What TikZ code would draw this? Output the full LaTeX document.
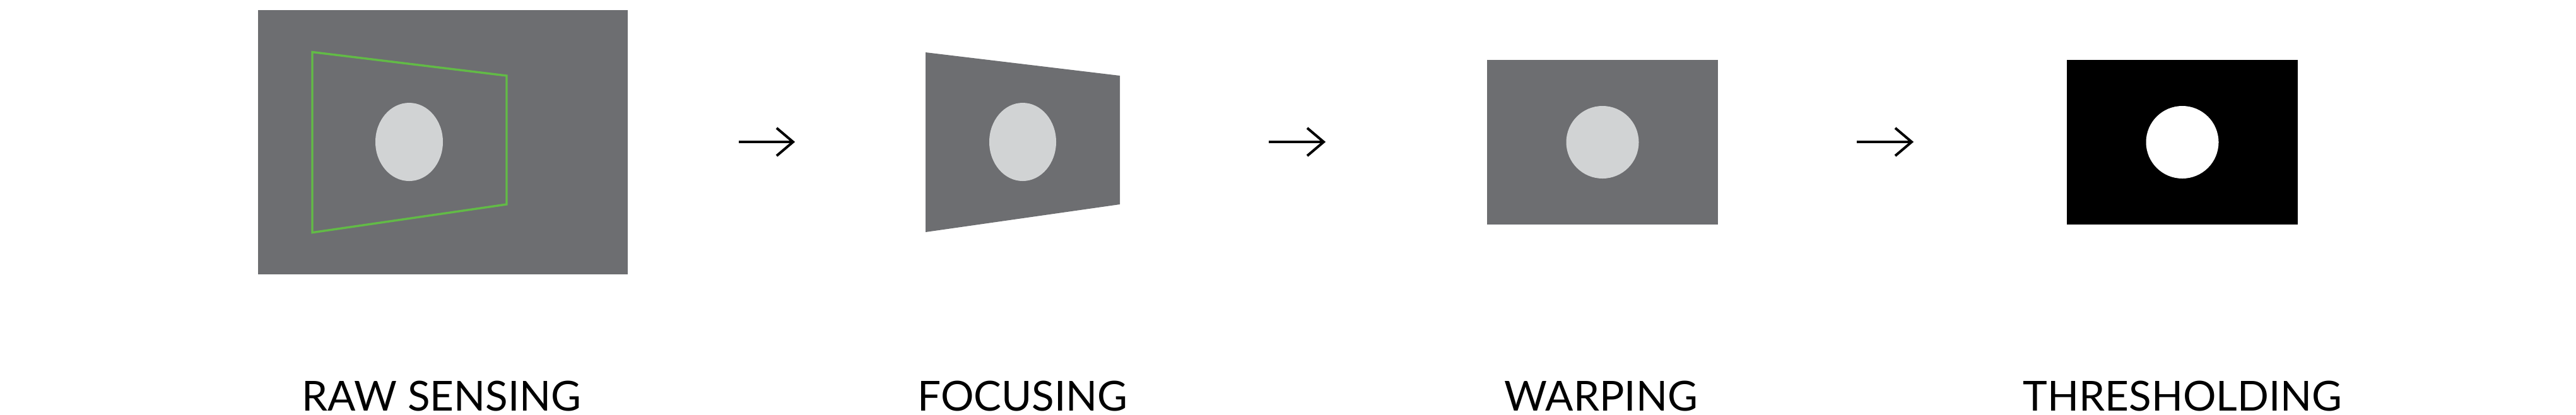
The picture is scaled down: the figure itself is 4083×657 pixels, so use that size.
\documentclass[tikz,border=0pt]{standalone}
\usepackage{fontspec}
\setmainfont{Lato}
\definecolor{panelgray}{HTML}{6D6E71}
\definecolor{blobgray}{HTML}{D1D3D4}
\definecolor{framegreen}{HTML}{62BB46}
\tikzset{
  panel/.style={fill=panelgray, draw=none},
  blob/.style={fill=blobgray, draw=none},
  stepline/.style={line width=1.0pt, line join=miter, line cap=butt},
  caption/.style={anchor=base, inner sep=0pt, font=\fontsize{16.4}{18}\selectfont},
}
\begin{document}
\begin{tikzpicture}[x=0.25pt, y=-0.25pt]
\useasboundingbox (0,0) rectangle (4083,657);
% panel 1: raw sensing
\fill[panel] (409,15.5) rectangle (995,435);
\draw[framegreen, line width=0.85pt, line join=miter] (495,82.5) -- (803,120) -- (803,324) -- (495,368.7) -- cycle;
\fill[blob] (648.5,225) ellipse [x radius=53.5, y radius=62];
% panel 2: focusing
\fill[panel] (1467,83) -- (1775,120) -- (1775,324) -- (1467,368) -- cycle;
\fill[blob] (1621,225) ellipse [x radius=53, y radius=62];
% panel 3: warping
\fill[panel] (2357,95) rectangle (2723,356);
\fill[blob] (2540,225.5) circle [radius=57.5];
% panel 4: thresholding
\fill[black] (3276,95) rectangle (3642,356);
\fill[white] (3459,225.5) circle [radius=57.5];
% arrows
\coordinate (a1s) at (1171,225);
\coordinate (a1e) at (1257,225);
\coordinate (a2s) at (2011,225);
\coordinate (a2e) at (2098,225);
\coordinate (a3s) at (2943,225);
\coordinate (a3e) at (3030,225);
\foreach \s/\e in {a1s/a1e, a2s/a2e, a3s/a3e}{
  \draw[stepline] (\s) -- (\e);
  \draw[stepline] (\e) ++(-26,-22) -- (\e) -- ++(-26,22);
}
% captions
\node[caption] (raw) at (700,651) {RAW SENSING};
\node[caption] (foc) at (1621,651) {FOCUSING};
\node[caption] (warp) at (2538,651) {WARPING};
\node[caption] (thr) at (3459.5,651) {THRESHOLDING};
\end{tikzpicture}
\end{document}
